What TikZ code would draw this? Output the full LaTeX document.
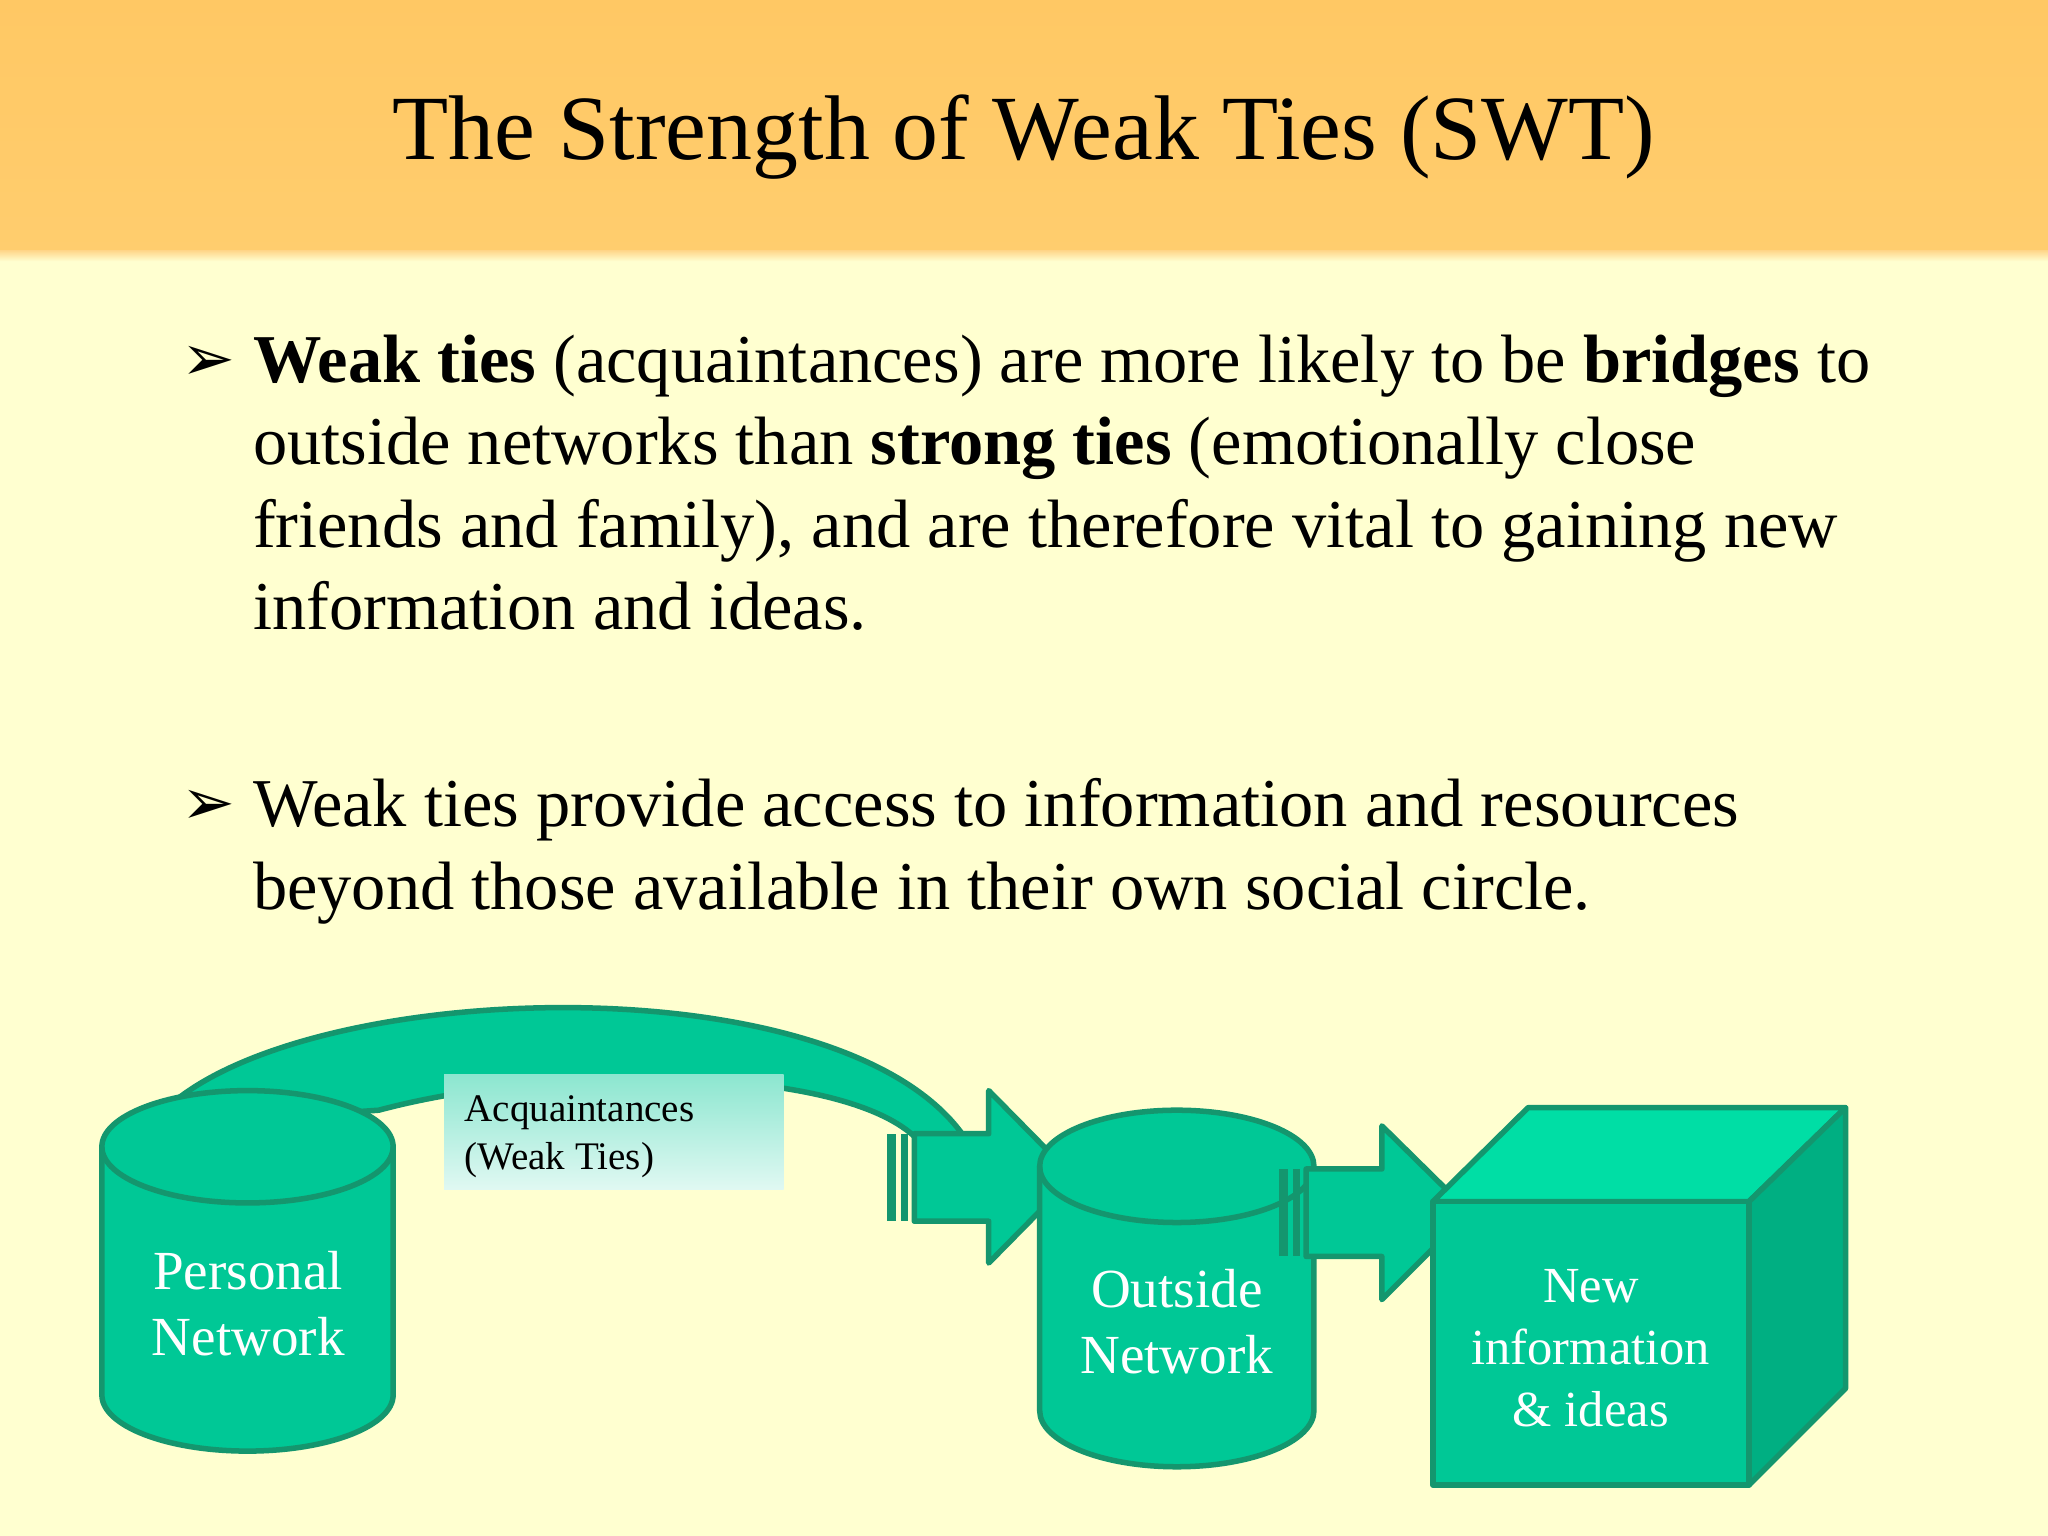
\documentclass[tikz,border=0pt]{standalone}
\usepackage{fontspec}
\setmainfont{Liberation Serif}
\begin{document}
\begin{tikzpicture}[x=0.01cm,y=-0.01cm]
\definecolor{gr}{RGB}{0,200,150}
\definecolor{grd}{RGB}{20,150,110}
\definecolor{grl}{RGB}{0,222,165}
\definecolor{grs}{RGB}{0,175,130}
\definecolor{bg}{RGB}{255,255,208}
\tikzset{solid3/.style={fill=gr,draw=grd,line width=1.2pt,line join=round},
 body/.style={anchor=base west,font=\fontsize{14.9pt}{18pt}\selectfont,inner sep=0},
 wtxt/.style={text=white,align=center,font=\fontsize{12pt}{14.5pt}\selectfont}}
\useasboundingbox (0,0) rectangle (1568,1176);
\fill[bg] (0,195) rectangle (1568,1176);
\shade[top color={rgb,255:red,255;green,200;blue,100},bottom color={rgb,255:red,255;green,205;blue,110}] (0,0) rectangle (1568,195);
\shade[top color={rgb,255:red,255;green,215;blue,140},bottom color=bg] (0,192) rectangle (1568,200);
\node (title) at (784,105) {\fontsize{20pt}{24pt}\selectfont The Strength of Weak Ties (SWT)};
% bullets
\node[body] (b1) at (138,291) {\fontsize{14pt}{18pt}\selectfont\fontspec{DejaVu Sans}➢};
\node[body] (l1) at (193,293) {\textbf{Weak ties} (acquaintances) are more likely to be \textbf{bridges} to};
\node[body] (l2) at (193,356) {outside networks than \textbf{strong ties} (emotionally close};
\node[body] (l3) at (193,419) {friends and family), and are therefore vital to gaining new};
\node[body] (l4) at (193,482) {information and ideas.};
\node[body] (b2) at (138,631) {\fontsize{14pt}{18pt}\selectfont\fontspec{DejaVu Sans}➢};
\node[body] (l5) at (193,633) {Weak ties provide access to information and resources};
\node[body] (l6) at (193,696) {beyond those available in their own social circle.};
% curved band
\path[solid3] (115,862) .. controls (200,750) and (640,730) .. (738,870) -- (700,870) .. controls (640,815) and (420,815) .. (290,850) -- cycle;
% arrow 1
\path[solid3] (700,868) -- (757,868) -- (757,835) -- (822,901) -- (757,967) -- (757,935) -- (700,935) -- cycle;
\fill[grd] (679,868) rectangle (686,935);
\fill[grd] (690,868) rectangle (695,935);
% cylinder 1
\path[solid3] (78,878) -- (78,1068) arc[start angle=180,end angle=0,x radius=111.5,y radius=43] -- (301,878) arc[start angle=0,end angle=-180,x radius=111.5,y radius=43];
\draw[grd,line width=1.2pt] (78,878) arc[start angle=180,end angle=0,x radius=111.5,y radius=43];
\node[wtxt] (pn) at (190,998) {Personal\\Network};
% label
\shade[top color=gr!45!white,bottom color=gr!12!white] (340,823) rectangle (600,911);
\node[anchor=north west,align=left,font=\fontsize{8.5pt}{10.5pt}\selectfont,inner sep=0] (acq) at (355,838) {Acquaintances\\(Weak Ties)};
% cylinder 2
\path[solid3] (796,893) -- (796,1080) arc[start angle=180,end angle=0,x radius=105,y radius=43] -- (1006,893) arc[start angle=0,end angle=-180,x radius=105,y radius=43];
\draw[grd,line width=1.2pt] (796,893) arc[start angle=180,end angle=0,x radius=105,y radius=43];
\node[wtxt] (on) at (901,1012) {Outside\\Network};
% arrow 2
\path[solid3] (1000,895) -- (1058,895) -- (1058,862) -- (1125,928) -- (1058,995) -- (1058,962) -- (1000,962) -- cycle;
\fill[grd] (979,895) rectangle (986,962);
\fill[grd] (990,895) rectangle (995,962);
% cube
\path[solid3,fill=grl] (1097,920) -- (1170,848) -- (1413,848) -- (1339,920) -- cycle;
\path[solid3,fill=grs] (1339,920) -- (1413,848) -- (1413,1063) -- (1339,1137) -- cycle;
\path[solid3] (1097,920) rectangle (1339,1137);
\node[wtxt,font=\fontsize{11pt}{13.5pt}\selectfont] (ni) at (1218,1032) {New\\information\\\& ideas};
\end{tikzpicture}
\end{document}
